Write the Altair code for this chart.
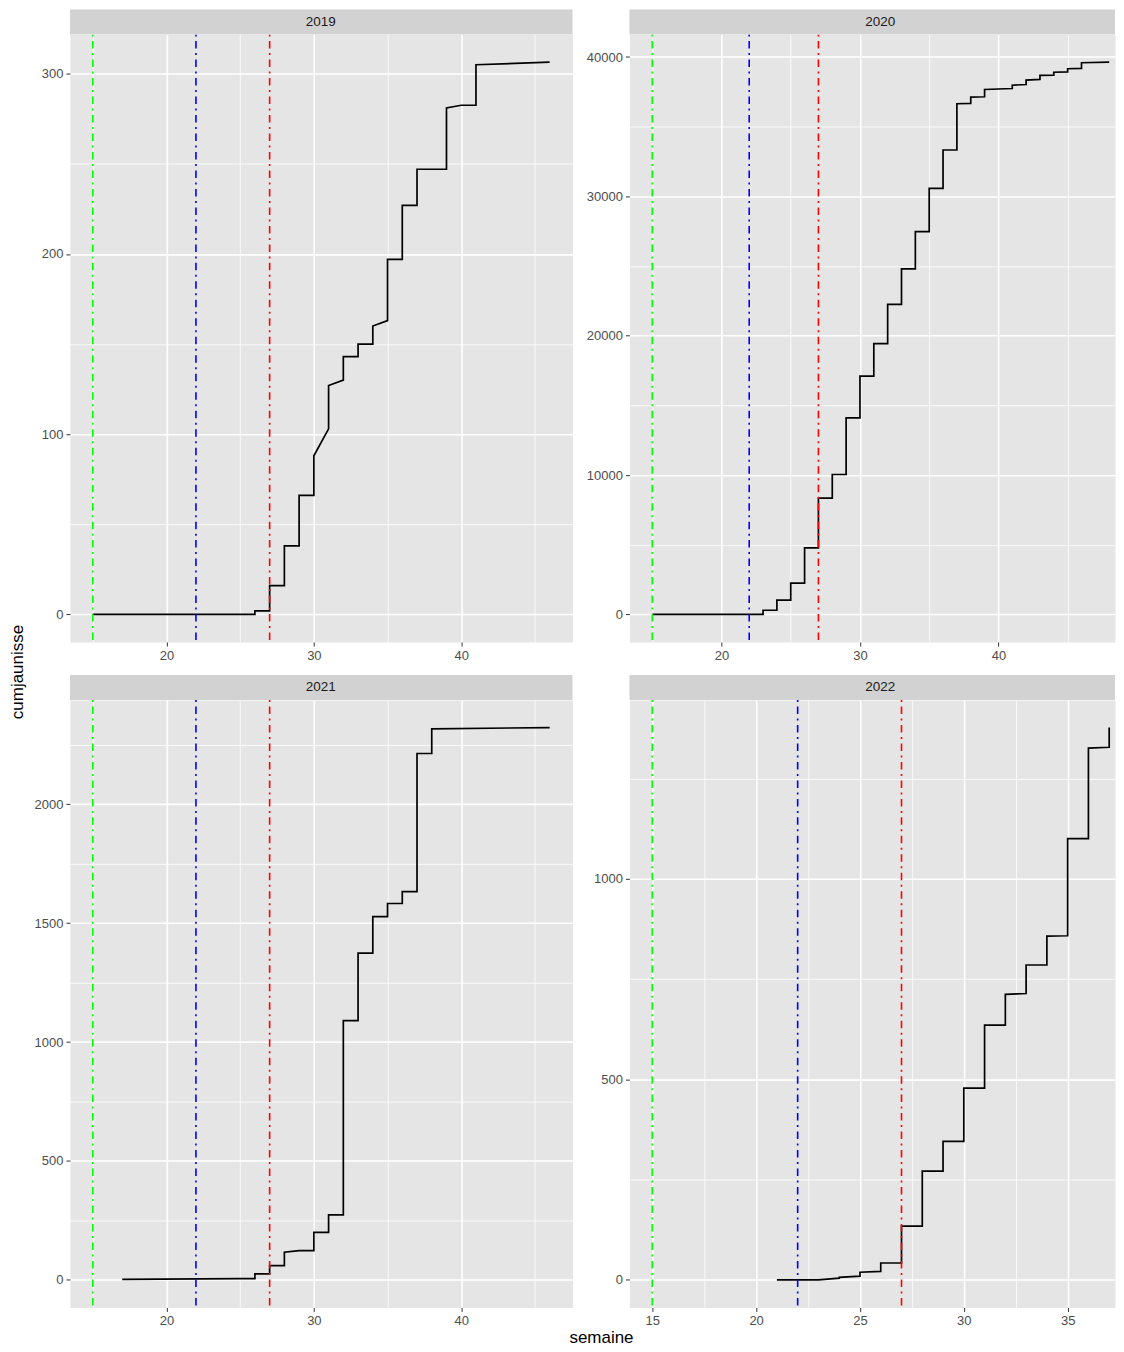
import json
import altair as alt
import pandas as pd

FONT = "Liberation Sans"

years = ["2019", "2020", "2021", "2022"]

# semaine / cumjaunisse (several rows per week -> vertical jumps)
weeks_2019 = [15, 25, 26, 26, 27, 27, 28, 28, 29, 29, 30, 30, 31, 31, 32, 32, 33, 33,
              34, 34, 35, 35, 36, 36, 37, 37, 38, 39, 39, 40, 41, 41, 46]
vals_2019 = [0, 0, 0, 2, 2, 16, 16, 38, 38, 66, 66, 88, 103, 127, 130, 143, 143, 150,
             150, 160, 163, 197, 197, 227, 227, 247, 247, 247, 281, 282.5, 282.5, 305, 306.4]

weeks_2020 = [15, 22, 23, 23, 24, 24, 25, 25, 26, 26, 27, 27, 28, 28, 29, 29, 30, 30,
              31, 31, 32, 32, 33, 33, 34, 34, 35, 35, 36, 36, 37, 37, 38, 38, 39, 39,
              41, 41, 42, 42, 43, 43, 44, 44, 45, 45, 46, 46, 48]
vals_2020 = [0, 0, 0, 300, 300, 1020, 1020, 2240, 2240, 4770, 4770, 8350, 8350, 10040,
             10040, 14100, 14100, 17100, 17100, 19430, 19430, 22250, 22250, 24800, 24800,
             27470, 27470, 30570, 30570, 33330, 33330, 36650, 36670, 37120, 37150, 37670,
             37740, 37980, 38030, 38340, 38390, 38680, 38700, 38910, 38940, 39160, 39180,
             39590, 39630]

weeks_2021 = [17, 25, 26, 26, 27, 27, 28, 28, 29, 30, 30, 31, 31, 32, 32, 33, 33, 34, 34,
              35, 35, 36, 36, 37, 37, 38, 38, 46]
vals_2021 = [2, 5, 5, 25, 25, 60, 60, 116, 123, 123, 200, 200, 273, 273, 1090, 1090, 1374,
             1374, 1528, 1528, 1583, 1583, 1633, 1633, 2214, 2214, 2318, 2323]

weeks_2022 = [21, 23, 24, 24, 25, 25, 26, 26, 27, 27, 28, 28, 29, 29, 30, 30, 31, 31, 32,
              32, 33, 33, 34, 34, 35, 35, 36, 36, 37, 37]
vals_2022 = [0, 0, 4, 6, 9, 19, 21, 42, 42, 134, 134, 271, 271, 345, 345, 478, 478, 635,
             635, 712, 714, 785, 785, 857, 858, 1100, 1100, 1326, 1328, 1377]

series = {"2019": (weeks_2019, vals_2019), "2020": (weeks_2020, vals_2020),
          "2021": (weeks_2021, vals_2021), "2022": (weeks_2022, vals_2022)}

vline_weeks = [15, 22, 27]
vline_names = ["vert", "bleu", "rouge"]
vline_colors = ["#00FF00", "#0000FF", "#FF0000"]

x_major = {"2019": [20, 30, 40], "2020": [20, 30, 40], "2021": [20, 30, 40],
           "2022": [15, 20, 25, 30, 35]}
x_minor = {"2019": [15, 25, 35, 45], "2020": [15, 25, 35, 45], "2021": [15, 25, 35, 45],
           "2022": [17.5, 22.5, 27.5, 32.5]}
y_major = {"2019": [0, 100, 200, 300], "2020": [0, 10000, 20000, 30000, 40000],
           "2021": [0, 500, 1000, 1500, 2000], "2022": [0, 500, 1000]}
y_minor = {"2019": [50, 150, 250], "2020": [5000, 15000, 25000, 35000],
           "2021": [250, 750, 1250, 1750, 2250], "2022": [250, 750, 1250]}

x_domain = {"2019": [13.45, 47.55], "2020": [13.35, 48.42],
            "2021": [13.45, 47.55], "2022": [13.9, 37.28]}
y_domain = {"2019": [-15.32, 321.72], "2020": [-1981.5, 41611.5],
            "2021": [-116.15, 2439.15], "2022": [-68.85, 1445.85]}

panel_w = {"2019": 503, "2020": 486, "2021": 503, "2022": 486}
PANEL_H = 608


def make_axis(major, minor):
    test = "indexof(%s, datum.value) >= 0" % json.dumps(major)
    return alt.Axis(
        values=sorted(major + minor), title=None, domain=False, format="d",
        labelExpr=f"({test}) ? datum.label : ''",
        gridColor="white",
        gridWidth={"condition": {"test": test, "value": 1.6}, "value": 0.8},
        tickOpacity={"condition": {"test": test, "value": 1}, "value": 0},
    )


def panel(year):
    weeks, vals = series[year]
    w = panel_w[year]
    df = pd.DataFrame({"semaine": weeks, "cumjaunisse": vals, "i": list(range(len(weeks)))})
    xs = alt.Scale(domain=x_domain[year], nice=False, zero=False)
    ys = alt.Scale(domain=y_domain[year], nice=False, zero=False)
    line = alt.Chart(df).mark_line(color="black", strokeWidth=1.7).encode(
        x=alt.X("semaine:Q", scale=xs, axis=make_axis(x_major[year], x_minor[year])),
        y=alt.Y("cumjaunisse:Q", scale=ys, axis=make_axis(y_major[year], y_minor[year])),
        order=alt.Order("i:Q"),
    )
    vdf = pd.DataFrame({"semaine": vline_weeks, "ligne": vline_names})
    rules = alt.Chart(vdf).mark_rule(strokeWidth=1.6, strokeDash=[2, 4.5, 7.5, 4.5]).encode(
        x=alt.X("semaine:Q"),
        color=alt.Color("ligne:N", scale=alt.Scale(domain=vline_names, range=vline_colors),
                        legend=None),
    )
    sdf = pd.DataFrame({"annee": [year]})
    strip = alt.Chart(sdf).mark_rect(color="#D2D2D2").encode(
        x=alt.value(0), x2=alt.value(w), y=alt.value(-25), y2=alt.value(0))
    stext = alt.Chart(sdf).mark_text(font=FONT, fontSize=13.5, color="#1A1A1A").encode(
        x=alt.value(251), y=alt.value(-12.5), text="annee:N")
    layers = [line, rules, strip, stext]
    if year == "2019":
        tdf = pd.DataFrame({"t": ["cumjaunisse"]})
        layers.append(alt.Chart(tdf).mark_text(font=FONT, fontSize=17, color="black",
                                               angle=270).encode(
            x=alt.value(-52), y=alt.value(638), text="t:N"))
    if year == "2021":
        tdf = pd.DataFrame({"t": ["semaine"]})
        layers.append(alt.Chart(tdf).mark_text(font=FONT, fontSize=17, color="black",
                                               baseline="alphabetic").encode(
            x=alt.value(532), y=alt.value(644), text="t:N"))
    return alt.layer(*layers).properties(width=w, height=PANEL_H)


chart = alt.concat(
    *[panel(y) for y in years], columns=2,
    spacing={"row": 58, "column": 57}, bounds="flush",
).resolve_scale(x="independent", y="independent").properties(
    padding={"left": 0, "top": 0, "right": 0, "bottom": 0},
).configure_view(fill="#E5E5E5", stroke="transparent").configure_axis(
    labelFont=FONT, labelFontSize=13, labelColor="#4D4D4D", tickColor="#333333",
    tickSize=4, tickWidth=1, labelPadding=3,
)

chart.save("out.html", embed_options={"renderer": "svg", "actions": False})
